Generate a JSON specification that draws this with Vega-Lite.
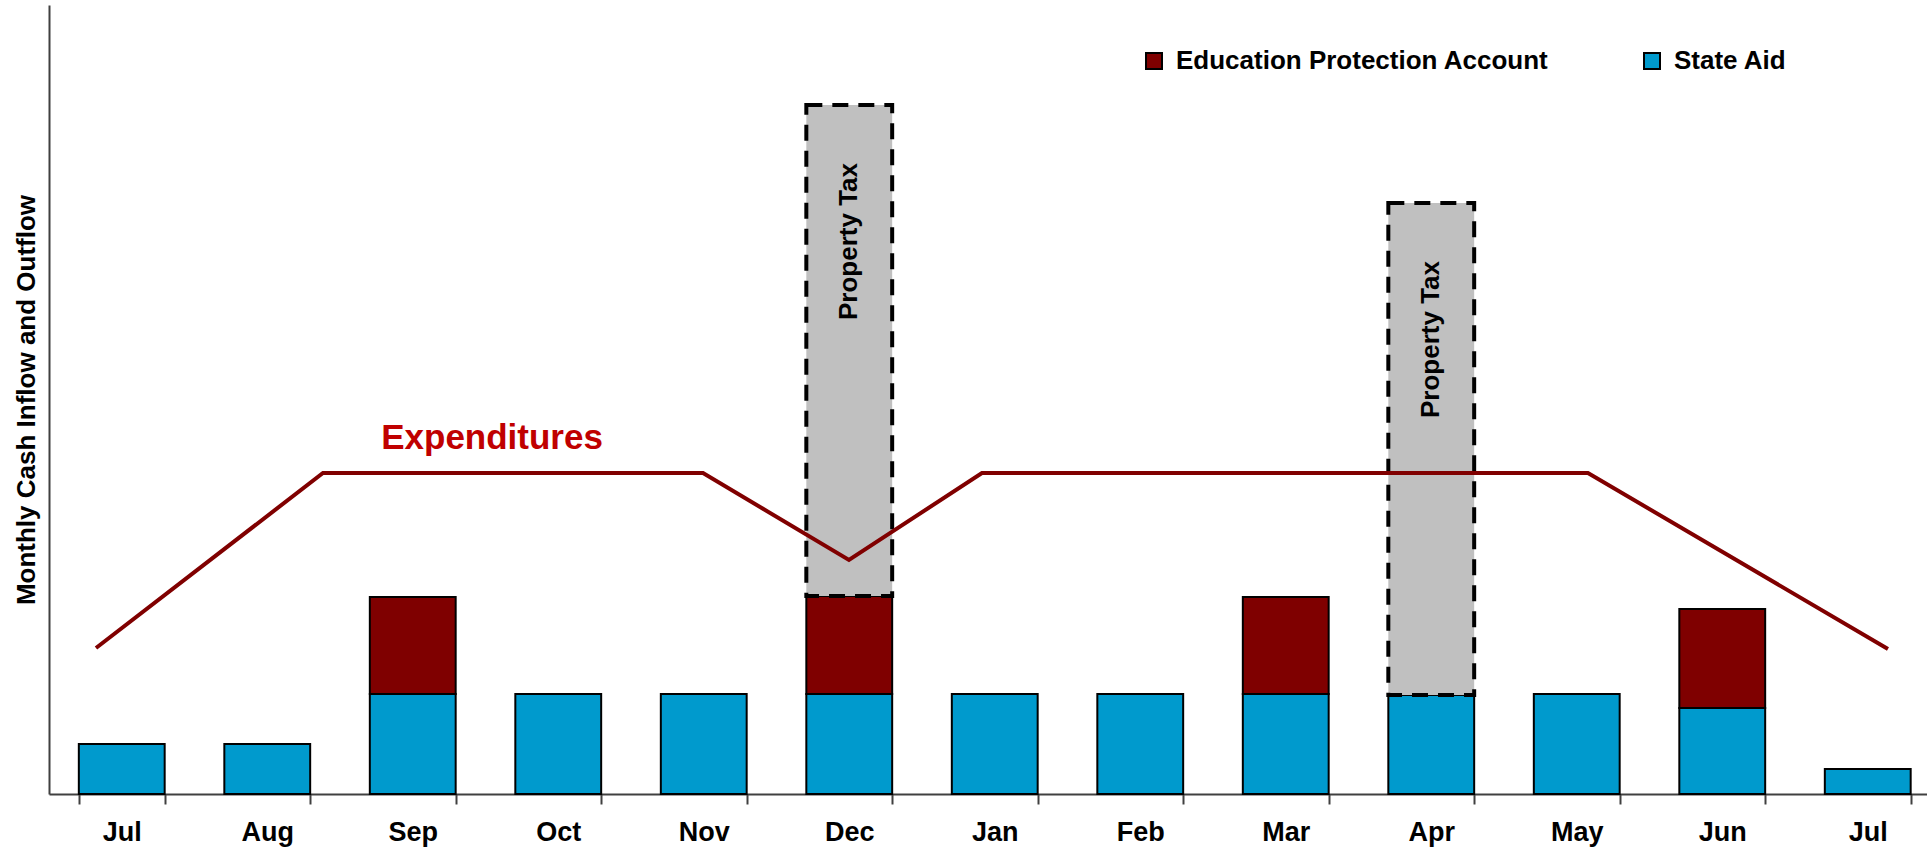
{
  "$schema": "https://vega.github.io/schema/vega-lite/v6.json",
  "width": 1878,
  "height": 789,
  "autosize": {"type": "none"},
  "padding": {"left": 49, "top": 5, "right": 0, "bottom": 59},
  "background": "white",
  "config": {"view": {"stroke": null}},
  "datasets": {
    "flows": [
      {"month": "Jul", "series": "State Aid", "amount": 50},
      {"month": "Aug", "series": "State Aid", "amount": 50},
      {"month": "Sep", "series": "State Aid", "amount": 100},
      {"month": "Sep", "series": "Education Protection Account", "amount": 97},
      {"month": "Oct", "series": "State Aid", "amount": 100},
      {"month": "Nov", "series": "State Aid", "amount": 100},
      {"month": "Dec", "series": "State Aid", "amount": 100},
      {"month": "Dec", "series": "Education Protection Account", "amount": 98},
      {"month": "Jan", "series": "State Aid", "amount": 100},
      {"month": "Feb", "series": "State Aid", "amount": 100},
      {"month": "Mar", "series": "State Aid", "amount": 100},
      {"month": "Mar", "series": "Education Protection Account", "amount": 97},
      {"month": "Apr", "series": "State Aid", "amount": 99},
      {"month": "May", "series": "State Aid", "amount": 100},
      {"month": "Jun", "series": "State Aid", "amount": 86},
      {"month": "Jun", "series": "Education Protection Account", "amount": 99},
      {"month": "Jul next", "series": "State Aid", "amount": 25},
      {"month": "Dec", "series": "Property Tax", "amount": 491},
      {"month": "Apr", "series": "Property Tax", "amount": 492}
    ],
    "expenditures": [
      {"pos": 0.323, "amount": 146},
      {"pos": 1.883, "amount": 321},
      {"pos": 4.495, "amount": 321},
      {"pos": 5.498, "amount": 234},
      {"pos": 6.412, "amount": 321},
      {"pos": 10.577, "amount": 321},
      {"pos": 12.639, "amount": 145}
    ],
    "labels": [
      {"pos": 3.045, "amount": 345, "label": "Expenditures"}
    ]
  },
  "layer": [
    {
      "data": {"name": "flows"},
      "transform": [
        {"calculate": "indexof(['State Aid','Education Protection Account','Property Tax'], datum.series)", "as": "rank"},
        {"stack": "amount", "groupby": ["month"], "sort": [{"field": "rank"}], "as": ["lo", "hi"]}
      ],
      "encoding": {
        "x": {
          "field": "month",
          "type": "ordinal",
          "scale": {
            "domain": ["Jul", "Aug", "Sep", "Oct", "Nov", "Dec", "Jan", "Feb", "Mar", "Apr", "May", "Jun", "Jul next"],
            "range": [0, 1891.5],
            "paddingInner": 0.41,
            "paddingOuter": 0.205
          },
          "axis": {
            "title": null,
            "labelExpr": "split(datum.label, ' ')[0]",
            "labelAngle": 0,
            "tickBand": "extent",
            "tickSize": 10,
            "tickWidth": 2,
            "tickColor": "#404040",
            "domainColor": "#404040",
            "domainWidth": 2,
            "grid": false,
            "labelFont": "'Liberation Sans', Arial, sans-serif",
            "labelFontSize": 27,
            "labelFontWeight": "bold",
            "labelColor": "black",
            "labelPadding": 15
          }
        }
      },
      "layer": [
        {
          "transform": [{"filter": "datum.series !== 'Property Tax'"}],
          "mark": {"type": "bar", "stroke": "black", "strokeWidth": 2},
          "encoding": {
            "y": {
              "field": "lo",
              "type": "quantitative",
              "scale": {"domain": [0, 789], "nice": false, "zero": true},
              "axis": {
                "title": "Monthly Cash Inflow and Outflow",
                "labels": false,
                "ticks": false,
                "grid": false,
                "domainColor": "#404040",
                "domainWidth": 2,
                "titleFont": "'Liberation Sans', Arial, sans-serif",
                "titleFontSize": 26,
                "titleFontWeight": "bold",
                "titleColor": "black",
                "titlePadding": 10
              }
            },
            "y2": {"field": "hi"},
            "color": {
              "field": "series",
              "type": "nominal",
              "scale": {
                "domain": ["Education Protection Account", "State Aid"],
                "range": ["#7f0000", "#009acd"]
              },
              "legend": {
                "orient": "none",
                "legendX": 1092,
                "legendY": 43,
                "direction": "horizontal",
                "title": null,
                "symbolType": "square",
                "symbolSize": 256,
                "symbolStrokeColor": "black",
                "symbolStrokeWidth": 2,
                "symbolOpacity": 1,
                "labelFont": "'Liberation Sans', Arial, sans-serif",
                "labelFontSize": 26,
                "labelFontWeight": "bold",
                "labelColor": "black",
                "labelOffset": 9,
                "columnPadding": 90,
                "labelLimit": 600
              }
            }
          }
        },
        {
          "transform": [{"filter": "datum.series === 'Property Tax'"}],
          "mark": {"type": "bar", "fill": "#c0c0c0", "stroke": "black", "strokeWidth": 4, "strokeDash": [16, 10]},
          "encoding": {
            "y": {"field": "lo", "type": "quantitative"},
            "y2": {"field": "hi"}
          }
        },
        {
          "transform": [{"filter": "datum.series === 'Property Tax'"}],
          "mark": {
            "type": "text",
            "angle": 270,
            "align": "right",
            "baseline": "middle",
            "dx": -58,
            "font": "'Liberation Sans', Arial, sans-serif",
            "fontSize": 26,
            "fontWeight": "bold",
            "color": "black"
          },
          "encoding": {
            "y": {"field": "hi", "type": "quantitative"},
            "text": {"field": "series"}
          }
        }
      ]
    },
    {
      "data": {"name": "expenditures"},
      "mark": {"type": "line", "color": "#800000", "strokeWidth": 4},
      "encoding": {
        "x": {
          "field": "pos",
          "type": "quantitative",
          "scale": {"domain": [0, 13], "range": [0, 1891.5], "nice": false, "zero": false},
          "axis": null
        },
        "y": {"field": "amount", "type": "quantitative"},
        "order": {"field": "pos"}
      }
    },
    {
      "data": {"name": "labels"},
      "mark": {
        "type": "text",
        "font": "'Liberation Sans', Arial, sans-serif",
        "fontSize": 35,
        "fontWeight": "bold",
        "color": "#c00000",
        "align": "center",
        "baseline": "alphabetic"
      },
      "encoding": {
        "x": {
          "field": "pos",
          "type": "quantitative",
          "scale": {"domain": [0, 13], "range": [0, 1891.5], "nice": false, "zero": false},
          "axis": null
        },
        "y": {"field": "amount", "type": "quantitative"},
        "text": {"field": "label"}
      }
    }
  ],
  "resolve": {"scale": {"x": "independent"}}
}
